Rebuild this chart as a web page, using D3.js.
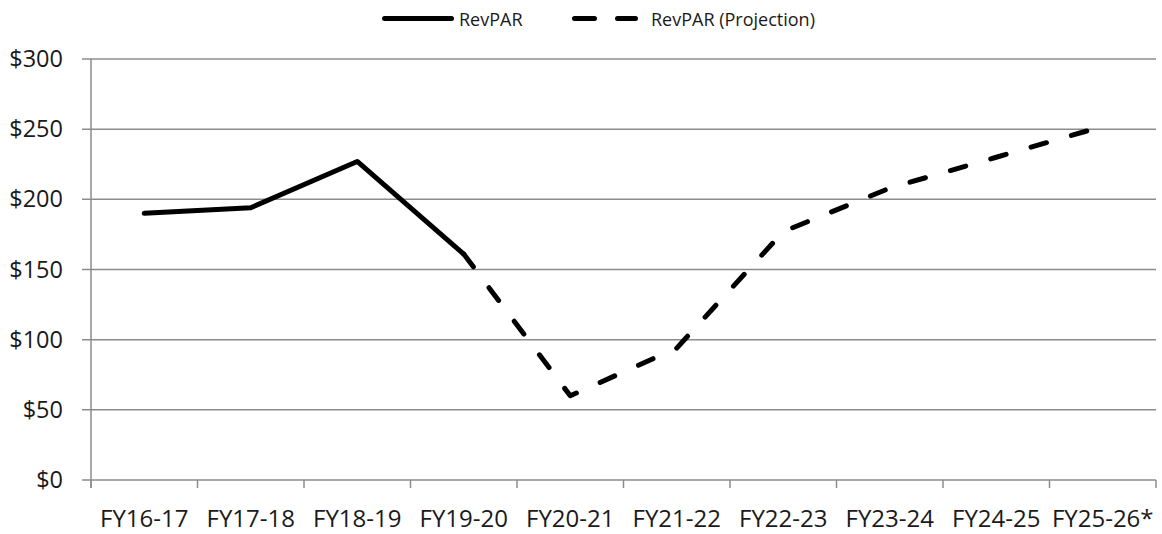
<!DOCTYPE html>
<html>
<head>
<meta charset="utf-8">
<script src="https://cdn.jsdelivr.net/npm/d3@7"></script>
<style>
  html, body { margin: 0; padding: 0; background: #fff; }
  svg { display: block; }
  text { font-family: "Open Sans", "Noto Sans", sans-serif; fill: #1a1a1a; }
</style>
</head>
<body>
<svg id="chart" width="1162" height="534"></svg>
<script>
const categories = ["FY16-17","FY17-18","FY18-19","FY19-20","FY20-21","FY21-22","FY22-23","FY23-24","FY24-25","FY25-26*"];
const actualCats = ["FY16-17","FY17-18","FY18-19","FY19-20"];
const actualValues = [190, 194, 227, 161];
const projCats = ["FY19-20","FY20-21","FY21-22","FY22-23","FY23-24","FY24-25","FY25-26*"];
const projValues = [161, 60, 94, 177, 208, 230, 252];
const yTicks = [0, 50, 100, 150, 200, 250, 300];
const seriesNames = ["RevPAR", "RevPAR (Projection)"];

const svg = d3.select("#chart");
const plotLeft = 91, plotRight = 1156, plotTop = 59, plotBottom = 480;

const x = d3.scaleBand().domain(categories).range([plotLeft, plotRight]).paddingInner(0).paddingOuter(0);
const y = d3.scaleLinear().domain([0, 300]).range([plotBottom, plotTop]);

const grid = "#8c8c8c";

// Gridlines + y ticks
svg.append("g").selectAll("line").data(yTicks).join("line")
  .attr("x1", plotLeft - 9).attr("x2", plotRight)
  .attr("y1", d => y(d)).attr("y2", d => y(d))
  .attr("stroke", grid).attr("stroke-width", 1.5);

// Y axis line
svg.append("line").attr("x1", plotLeft).attr("x2", plotLeft).attr("y1", plotTop).attr("y2", plotBottom + 8)
  .attr("stroke", grid).attr("stroke-width", 1.5);

// X ticks at band edges
const edges = categories.map(c => x(c)).concat([plotRight]);
svg.append("g").selectAll("line").data(edges).join("line")
  .attr("x1", d => d).attr("x2", d => d)
  .attr("y1", plotBottom).attr("y2", plotBottom + 8)
  .attr("stroke", grid).attr("stroke-width", 1.5);

// Y labels
svg.append("g").selectAll("text").data(yTicks).join("text")
  .attr("x", 63).attr("y", d => y(d) - 1)
  .attr("text-anchor", "end").attr("dominant-baseline", "central")
  .style("font-size", "23.5px")
  .text(d => "$" + d);

// X labels
svg.append("g").selectAll("text").data(categories).join("text")
  .attr("x", d => x(d) + x.bandwidth() / 2).attr("y", 527)
  .attr("text-anchor", "middle")
  .style("font-size", "24px")
  .text(d => d);

const line = d3.line().x(d => x(d[0]) + x.bandwidth() / 2).y(d => y(d[1]));

// Projection (dashed)
svg.append("path")
  .datum(projCats.map((c, i) => [c, projValues[i]]))
  .attr("d", line).attr("fill", "none")
  .attr("stroke", "#000").attr("stroke-width", 5)
  .attr("stroke-linecap", "round").attr("stroke-linejoin", "round")
  .attr("stroke-dasharray", "16,26");

// Actual (solid)
svg.append("path")
  .datum(actualCats.map((c, i) => [c, actualValues[i]]))
  .attr("d", line).attr("fill", "none")
  .attr("stroke", "#000").attr("stroke-width", 5)
  .attr("stroke-linecap", "round").attr("stroke-linejoin", "round");

// Legend
const lg = svg.append("g");
lg.append("line").attr("x1", 384.5).attr("x2", 451.5).attr("y1", 18.5).attr("y2", 18.5)
  .attr("stroke", "#000").attr("stroke-width", 5).attr("stroke-linecap", "round");
lg.append("text").attr("x", 459).attr("y", 19).attr("dominant-baseline", "central")
  .style("font-size", "18px").text(seriesNames[0]);
lg.append("line").attr("x1", 574.5).attr("x2", 635.5).attr("y1", 18.5).attr("y2", 18.5)
  .attr("stroke", "#000").attr("stroke-width", 5).attr("stroke-linecap", "round")
  .attr("stroke-dasharray", "20,23");
lg.append("text").attr("x", 651).attr("y", 19).attr("dominant-baseline", "central")
  .style("font-size", "18px").text(seriesNames[1]);
</script>
</body>
</html>
